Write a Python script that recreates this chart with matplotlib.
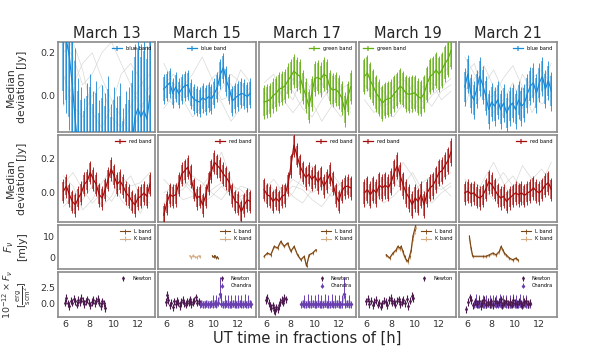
import numpy as np
import matplotlib.pyplot as plt
from matplotlib.colors import to_rgba

days = ['March 13', 'March 15', 'March 17', 'March 19', 'March 21']

# optical light curves, median deviation [Jy], 30 bins from 5.8 h to 13.0 h
opt_names = ['blue band', 'blue band', 'green band', 'green band', 'blue band']
opt_colors = ['#1a8ad6', '#1a8ad6', '#62ad12', '#62ad12', '#1a8ad6']
opt_loc = ['upper right', 'upper center', 'upper right', 'upper left', 'upper right']
opt_13 = [0.30, 0.26, 0.18, 0.05, -0.12, -0.26, -0.30, -0.35, -0.28, -0.24, -0.32, -0.27, -0.36, -0.29, -0.33,
          -0.25, -0.38, -0.30, -0.34, -0.28, -0.40, -0.32, -0.30, -0.22, -0.10, -0.06, -0.10, -0.07, -0.11, 0.0]
opt_15 = [0.03, 0.045, 0.06, 0.01, 0.04, 0.01, 0.03, 0.045, 0.05, 0.005, -0.015, -0.025, -0.03, -0.01, -0.02,
          -0.005, -0.015, 0.01, 0.04, 0.10, 0.13, 0.07, 0.03, -0.025, -0.01, 0.0, 0.01, 0.005, -0.005, 0.01]
opt_17 = [-0.03, -0.025, -0.02, 0.0, 0.01, 0.03, 0.035, 0.045, 0.07, 0.09, 0.115, 0.10, 0.09, 0.04, 0.0,
          -0.05, 0.01, 0.08, 0.085, 0.075, 0.10, 0.09, 0.04, 0.025, 0.03, 0.015, -0.01, -0.065, -0.01, 0.04]
opt_19 = [0.09, 0.105, 0.07, 0.04, 0.01, -0.01, -0.035, -0.02, -0.015, -0.01, 0.01, 0.025, 0.045, 0.03, 0.01,
          0.005, 0.01, 0.012, -0.005, -0.012, 0.01, 0.055, 0.09, 0.10, 0.12, 0.10, 0.12, 0.15, 0.17, 0.21]
opt_21 = [0.04, 0.10, 0.01, -0.02, 0.03, 0.09, 0.05, 0.0, -0.065, -0.03, -0.05, -0.02, -0.065, -0.035, -0.08,
          -0.05, -0.035, -0.065, -0.02, -0.05, -0.035, 0.01, 0.045, 0.06, 0.01, 0.06, 0.09, 0.03, 0.07, 0.02]
opt_err = [0.28, 0.055, 0.065, 0.075, 0.07]
opt_err_wide = [0.34, 0.07, 0.08, 0.085, 0.09]

red_loc = ['upper right', 'upper right', 'upper right', 'upper left', 'upper right']
red_13 = [0.01, 0.04, -0.01, -0.05, -0.07, -0.03, 0.0, 0.05, 0.07, 0.12, 0.08, 0.05, -0.01, -0.03, 0.02,
          0.08, 0.14, 0.10, 0.05, 0.07, 0.04, 0.0, -0.02, -0.05, -0.07, -0.03, -0.02, 0.0, -0.02, 0.05]
red_15 = [-0.13, -0.06, -0.01, -0.02, -0.01, 0.05, 0.11, 0.13, 0.15, 0.10, 0.02, -0.03, -0.02, -0.07, -0.02,
          0.06, 0.13, 0.18, 0.16, 0.14, 0.11, 0.09, 0.06, -0.01, -0.05, -0.06, -0.11, -0.07, -0.04, -0.05]
red_17 = [0.02, -0.01, -0.02, -0.05, -0.03, -0.05, -0.02, -0.01, 0.05, 0.16, 0.28, 0.22, 0.16, 0.12, 0.09,
          0.11, 0.08, 0.10, 0.065, 0.09, 0.04, 0.07, 0.11, 0.06, -0.01, -0.05, 0.01, 0.035, 0.04, 0.03]
red_19 = [0.0, 0.02, -0.01, 0.02, 0.0, 0.045, 0.03, 0.045, 0.03, 0.065, 0.12, 0.16, 0.10, 0.045, 0.0,
          -0.03, -0.07, -0.03, -0.05, -0.01, -0.07, 0.0, 0.03, 0.045, 0.08, 0.12, 0.13, 0.16, 0.19, 0.24]
red_21 = [0.0, 0.01, -0.005, 0.0, -0.02, -0.03, -0.015, 0.02, 0.065, 0.05, 0.02, -0.01, -0.03, -0.02, -0.05,
          -0.03, -0.015, 0.0, -0.01, 0.0, -0.015, 0.0, 0.01, 0.03, 0.01, 0.0, 0.02, 0.045, 0.06, 0.02]
red_err = [0.055, 0.055, 0.055, 0.065, 0.055]
red_err_wide = [0.07, 0.07, 0.07, 0.08, 0.07]

# comparison stars (grey), 10 bins from 5.8 h to 13.0 h
grey_opt_13 = [[0.25, 0.18, 0.05, 0.10, 0.20, 0.25, 0.15, 0.05, -0.05, 0.0],
               [0.10, -0.05, -0.10, 0.00, 0.05, -0.10, -0.15, -0.05, 0.05, 0.10],
               [0.20, 0.25, 0.12, -0.08, -0.15, -0.05, 0.10, 0.15, 0.08, -0.02],
               [-0.05, 0.05, 0.15, 0.20, 0.08, -0.02, -0.10, -0.18, -0.08, 0.05]]
grey_opt_15 = [[0.05, 0.10, 0.02, -0.05, 0.00, 0.08, 0.12, 0.05, -0.02, 0.04],
               [-0.06, 0.00, 0.06, 0.02, -0.08, -0.04, 0.03, 0.10, 0.06, 0.00],
               [0.15, 0.06, -0.02, -0.10, -0.05, 0.02, -0.03, -0.12, -0.06, 0.02],
               [0.00, -0.04, 0.04, 0.10, 0.18, 0.08, -0.02, 0.00, 0.12, 0.06]]
grey_opt_17 = [[-0.04, 0.00, 0.05, 0.02, -0.06, -0.10, -0.02, 0.04, 0.00, -0.06],
               [0.02, -0.06, -0.02, 0.08, 0.05, -0.03, -0.12, -0.05, 0.03, 0.06],
               [-0.10, -0.04, 0.03, -0.02, 0.10, 0.02, 0.06, -0.04, -0.10, -0.02],
               [0.06, 0.10, -0.02, -0.08, -0.02, 0.06, 0.00, 0.10, 0.04, -0.08]]
grey_opt_19 = [[0.05, 0.00, -0.05, -0.02, 0.03, -0.04, -0.06, 0.00, 0.04, 0.08],
               [0.12, 0.06, 0.02, -0.06, -0.02, 0.05, 0.00, -0.05, 0.02, 0.05],
               [-0.02, -0.08, -0.03, 0.04, 0.08, 0.02, -0.03, 0.03, 0.10, 0.14],
               [0.02, 0.04, -0.08, -0.10, -0.04, -0.08, 0.04, 0.06, -0.02, 0.02]]
grey_opt_21 = [[0.18, 0.10, 0.05, 0.12, 0.02, -0.05, 0.03, 0.08, 0.12, 0.05],
               [0.05, -0.05, 0.02, -0.08, -0.02, 0.06, -0.06, 0.00, 0.06, 0.15],
               [-0.05, 0.08, 0.14, 0.04, -0.10, -0.04, 0.10, 0.02, -0.04, 0.00],
               [0.10, 0.15, -0.02, 0.00, 0.08, 0.14, 0.04, -0.08, 0.02, 0.10]]
grey_red_13 = [[0.05, 0.12, 0.02, -0.06, 0.00, 0.08, -0.04, -0.10, 0.02, 0.06],
               [-0.08, -0.02, 0.06, 0.10, 0.02, -0.05, 0.04, 0.10, -0.02, -0.06],
               [0.10, 0.04, -0.10, -0.04, 0.06, 0.14, 0.06, -0.02, -0.12, 0.00],
               [-0.02, -0.10, -0.04, 0.04, -0.08, -0.02, 0.10, 0.04, 0.06, 0.12]]
grey_red_15 = [[0.00, 0.04, 0.08, 0.02, -0.04, 0.02, 0.06, 0.00, -0.02, 0.02],
               [-0.06, 0.00, 0.02, 0.10, 0.06, 0.00, -0.04, 0.04, 0.02, -0.04],
               [0.08, 0.02, -0.04, -0.02, 0.04, 0.12, 0.24, 0.08, -0.04, 0.00],
               [-0.12, -0.04, 0.06, 0.00, -0.06, -0.02, 0.04, -0.02, 0.04, 0.02]]
grey_red_17 = [[0.00, -0.04, 0.02, 0.08, 0.04, 0.00, 0.04, -0.02, 0.02, 0.00],
               [0.06, 0.02, -0.06, 0.00, 0.10, 0.16, 0.06, 0.02, -0.04, 0.04],
               [-0.06, 0.00, 0.04, -0.02, -0.06, 0.02, 0.08, 0.12, 0.04, -0.02],
               [0.02, 0.08, 0.00, 0.04, 0.02, -0.04, -0.08, 0.00, 0.06, 0.08]]
grey_red_19 = [[0.02, -0.04, 0.00, 0.06, 0.02, -0.06, 0.00, 0.04, 0.02, 0.06],
               [-0.04, 0.04, 0.08, 0.02, 0.18, 0.10, -0.02, -0.06, 0.00, 0.04],
               [0.06, 0.00, -0.06, -0.02, 0.04, 0.00, 0.06, 0.10, 0.04, -0.02],
               [-0.08, -0.02, 0.04, 0.10, 0.04, 0.12, 0.02, -0.04, 0.08, 0.12]]
grey_red_21 = [[0.00, 0.06, 0.02, -0.04, 0.04, 0.10, 0.02, -0.02, 0.04, 0.02],
               [0.04, -0.02, 0.08, 0.18, 0.06, -0.04, 0.00, 0.08, 0.14, 0.06],
               [-0.06, 0.00, -0.04, 0.04, 0.12, 0.04, -0.06, 0.02, 0.06, 0.18],
               [0.08, 0.02, 0.00, 0.06, -0.02, 0.02, 0.16, 0.08, -0.02, 0.04]]

# infrared flux [mJy]
L_t = [[], [9.85, 9.95, 10.05, 10.15, 10.25, 10.35],
       [5.80, 6.08, 6.36, 6.64, 6.92, 7.19, 7.47, 7.75, 8.03, 8.30, 8.58, 8.86, 9.14, 9.33, 9.55, 9.83, 10.11],
       [7.61, 7.89, 8.17, 8.44, 8.58, 8.72, 8.86, 9.0, 9.14, 9.28, 9.42, 9.55, 9.69, 9.83, 9.97, 10.11],
       [6.18, 6.32, 6.46, 7.29, 7.57, 7.85, 8.13, 8.40, 8.68, 8.82, 8.96, 9.1, 9.24, 9.51, 9.79, 10.07, 10.21]]
L_v = [[], [1.0, 0.3, 1.2, 0.0, 0.6, -0.2],
       [0.8, 2.3, 1.5, 5.4, 4.6, 7.7, 5.4, 6.9, 3.1, 5.4, 1.5, -0.8, 0.8, -3.8, 1.5, 2.3, 3.8],
       [1.5, 0.0, 2.3, 3.8, 5.4, 4.6, 5.4, 3.1, 0.8, -0.8, -1.5, 0.8, 3.8, 10.0, 13.0, 16.0],
       [10.0, 4.6, 0.8, 0.8, 0.8, 1.5, 2.3, 1.5, 3.1, 5.4, 3.8, 2.3, 1.5, 0.0, -0.8, 0.0, -0.8]]
K_t = [[], [7.95, 8.1, 8.25, 8.4, 8.55, 8.7, 8.8],
       L_t[2], L_t[3], L_t[4]]
K_v = [[], [1.0, 0.2, 1.2, 0.5, 0.3, 1.0, 0.8],
       [0.5, 2.0, 1.2, 5.0, 4.2, 7.2, 5.0, 6.5, 2.8, 5.0, 1.2, -1.0, 0.5, -3.5, 1.2, 2.0, 3.5],
       [1.2, -0.3, 1.8, 3.2, 4.6, 4.0, 4.6, 2.5, 0.3, -1.2, -2.0, 0.3, 3.0, 8.5, 11.5, 14.0],
       [9.0, 4.0, 0.5, 0.5, 0.4, 1.0, 1.8, 1.0, 2.5, 4.6, 3.2, 1.8, 1.0, -0.4, -1.2, -0.4, -1.2]]

# X-ray flux, 1e-12 erg/s/cm2
newton_span = [(5.9, 9.3), (5.95, 8.7), (5.95, 7.6), (5.95, 9.85), (5.9, 11.2)]
newton_v = [[0.2, 0.9, 0.1, -0.3, 0.5, 0.2, 0.8, 0.4, -0.1, 0.6, 0.3, 0.9, 0.5, 0.0, 0.4, 0.7, 0.2, -0.2,
             0.3, 0.6, 0.1, 0.5, 0.8, 0.2, -0.3, 0.4, 0.1, -0.6],
            [0.3, 1.3, 0.6, -0.2, 0.2, -0.5, 0.4, 0.0, 0.5, 0.2, -0.3, 0.3, 0.6, 0.1, -0.1, 0.4, 0.2, 0.7,
             0.0, 0.3, 0.5, 1.0, 0.2, 0.4],
            [0.6, 0.9, 0.2, -0.3, -0.6, -0.2, -0.9, -1.1, -0.5, -0.8, -0.2, 0.3, 0.6, 0.2, 0.9, 0.7],
            [0.4, 0.8, 0.0, 0.5, -0.2, 0.3, 0.6, -0.1, 0.2, -0.4, 0.1, 0.5, 0.3, -0.2, 0.6, 0.9, 0.2, 0.4,
             -0.1, 0.5, 0.7, 0.0, 0.3, 0.6, 0.1, 0.8, -0.3, 0.5, 1.2, 0.9],
            [-0.8, 0.3, 1.0, 0.6, -0.2, 0.4, 0.0, 0.5, -0.3, 0.2, 0.6, -0.1, 0.3, 0.0, 0.4, -0.2, 0.5, 0.1,
             0.3, 0.7, -0.2, 0.2, 0.5, 0.0, 0.3, -0.1, 0.6, 0.2, 0.0, 0.4, 0.1, -0.2, 0.3, 0.5, 0.0, 0.2]]
newton_err = 0.55
chandra_span = [None, (8.8, 13.1), (8.86, 13.0), None, (6.6, 11.2)]
chandra_v = [None,
             [0.0, 0.05, -0.05, 0.0, 0.05, 0.0, -0.05, 0.05, 0.0, 0.1, 0.0, 0.2, 1.5, 0.05, -0.05, 0.0,
              0.05, 0.0, -0.05, 0.0, 0.05, 0.0, 0.0, -0.05, 0.05, 0.0, 0.0, 0.05, -0.05, 0.0, 0.05, 0.0],
             [0.0, 0.05, 0.0, -0.05, 0.05, 0.0, 0.0, 0.05, -0.05, 0.0, 0.05, 0.0, -0.05, 0.0, 0.05,
              0.0, 0.0, -0.05, 0.05, 0.0, 0.0, 0.05, 0.0, -0.05, 0.0, 1.5, 0.0, 0.05, 0.0, 0.0],
             None,
             [0.0, 0.05, -0.05, 0.0, 0.05, 0.0, -0.05, 0.0, 0.05, 0.0, 0.0, -0.05, 0.05, 0.0, 0.0, 0.05, -0.05,
              0.0, 0.05, 0.0, 0.0, -0.05, 0.0, 0.05, 0.0, 0.0, -0.05, 0.05, 0.0, 0.0, 0.05, 0.0, -0.05, 0.0]]
chandra_up = [None,
              [0.5, 0.5, 0.5, 0.5, 0.5, 0.5, 0.5, 0.5, 1.4, 0.5, 1.4, 0.9, 2.5, 1.4, 0.5, 1.4,
               0.5, 1.4, 0.5, 1.4, 0.5, 1.4, 0.5, 1.4, 0.5, 1.4, 0.5, 1.4, 0.5, 1.4, 0.5, 0.5],
              [0.5, 0.5, 1.4, 0.5, 1.4, 0.5, 1.4, 0.5, 1.4, 0.5, 1.4, 0.5, 1.4, 0.5, 1.4,
               0.5, 1.4, 0.5, 1.4, 0.5, 1.4, 0.5, 1.4, 0.5, 1.4, 2.5, 1.4, 0.5, 1.4, 0.5],
              None,
              [0.5, 1.4, 0.5, 1.4, 0.5, 1.4, 0.5, 1.4, 0.5, 1.4, 0.5, 1.4, 0.5, 1.4, 0.5, 1.4, 0.5,
               1.4, 0.5, 1.4, 0.5, 1.4, 0.5, 1.4, 0.5, 1.4, 0.5, 1.4, 0.5, 1.4, 0.5, 1.4, 0.5, 0.5]]
chandra_lo = 0.55

opt_vals = [opt_13, opt_15, opt_17, opt_19, opt_21]
red_vals = [red_13, red_15, red_17, red_19, red_21]
grey_opt = [grey_opt_13, grey_opt_15, grey_opt_17, grey_opt_19, grey_opt_21]
grey_red = [grey_red_13, grey_red_15, grey_red_17, grey_red_19, grey_red_21]

red_color = '#a50d0d'
L_color = '#7a4514'
K_color = '#d6ad82'
newton_color = '#4d1a4f'
chandra_color = '#6a3fb0'
grey = '#cfd1cc'

t_main = np.linspace(5.8, 13.0, 30)
t_grey = np.linspace(5.8, 13.0, 10)

fig = plt.figure(figsize=(5.98, 3.56), dpi=100)
gs = fig.add_gridspec(4, 5, left=0.097, right=0.931, top=0.882, bottom=0.110,
                      wspace=0.031, hspace=0.045, height_ratios=[90, 87, 44, 45])
axes = gs.subplots(sharex=True, sharey='row')


def light_curve(ax, vals, err, err_wide, color, label, greys, loc):
    for g in greys:
        ax.plot(t_grey, g, color=grey, lw=0.5, alpha=0.8, zorder=1)
    ax.errorbar(t_main, vals, yerr=err_wide, fmt='none', ecolor=color, elinewidth=0.6, zorder=3)
    ax.errorbar(t_main, vals, yerr=err, fmt='-', color=color, lw=0.9,
                ecolor=to_rgba(color, 0.6), elinewidth=1.4, label=label, zorder=4)
    ax.legend(loc=loc, fontsize=3.6, frameon=False, borderaxespad=0.4)


for c in range(5):
    light_curve(axes[0, c], opt_vals[c], opt_err[c], opt_err_wide[c], opt_colors[c],
                opt_names[c], grey_opt[c], opt_loc[c])
    light_curve(axes[1, c], red_vals[c], red_err[c], red_err_wide[c], red_color,
                'red band', grey_red[c], red_loc[c])
    axes[0, c].set_title(days[c], fontsize=10.5, pad=3, color='#262626')

    # infrared
    ax = axes[2, c]
    lt = L_t[c] if L_t[c] else [np.nan]
    lv = L_v[c] if L_v[c] else [np.nan]
    kt = K_t[c] if K_t[c] else [np.nan]
    kv = K_v[c] if K_v[c] else [np.nan]
    ax.errorbar(kt, kv, yerr=0.6, fmt='-', color=K_color, lw=0.8, elinewidth=0.8, label='K band', zorder=2)
    ax.errorbar(lt, lv, yerr=0.4, fmt='-', color=L_color, lw=0.8, elinewidth=0.6, label='L band', zorder=3)
    h, l = ax.get_legend_handles_labels()
    ax.legend(h[::-1], l[::-1], loc='upper right', fontsize=3.6, frameon=False, borderaxespad=0.4)

    # X-ray
    ax = axes[3, c]
    if chandra_span[c] is not None:
        ct = np.linspace(chandra_span[c][0], chandra_span[c][1], len(chandra_v[c]))
        cv = np.array(chandra_v[c])
        ax.fill_between(ct, cv - chandra_lo, cv + chandra_lo, color=chandra_color, alpha=0.45, lw=0, zorder=1)
    nt = np.linspace(newton_span[c][0], newton_span[c][1], len(newton_v[c]))
    ax.errorbar(nt, newton_v[c], yerr=newton_err, fmt='.', ms=2, color=newton_color,
                elinewidth=0.8, label='Newton', zorder=3)
    if chandra_span[c] is not None:
        ax.errorbar(ct, cv, yerr=[np.full(len(cv), chandra_lo), chandra_up[c]], fmt='D', ms=1.2,
                    color=chandra_color, elinewidth=0.7, label='Chandra', zorder=2)
    ax.legend(loc='upper right', fontsize=3.6, frameon=False, borderaxespad=0.4)

axes[0, 0].set_ylim(-0.17, 0.25)
axes[0, 0].set_yticks([0.0, 0.2])
axes[1, 0].set_ylim(-0.17, 0.34)
axes[1, 0].set_yticks([0.0, 0.2])
axes[2, 0].set_ylim(-5, 15.2)
axes[2, 0].set_yticks([0, 10])
axes[3, 0].set_ylim(-1.9, 4.75)
axes[3, 0].set_yticks([0.0, 2.5])
axes[3, 0].set_xlim(5.35, 13.45)
axes[3, 0].set_xticks([6, 8, 10, 12])

for ax in axes.flat:
    for s in ax.spines.values():
        s.set_color('#8a8a8a')
        s.set_linewidth(1.2)
    ax.tick_params(length=0, labelsize=6.8, colors='#333333', pad=2)
    ax.set_facecolor('white')

ylabels = ['Median\ndeviation [Jy]', 'Median\ndeviation [Jy]', '$F_\\nu$\n[mJy]']
for r in range(3):
    axes[r, 0].set_ylabel(ylabels[r], fontsize=7.8, color='#333333', linespacing=1.1)
    axes[r, 0].yaxis.set_label_coords(-0.32, 0.5)

# X-ray row label, two lines placed separately (the fraction makes line 2 tall)
fig.text(0.014, 0.172, '$10^{-12}\\times F_\\nu$', rotation=90, ha='center', va='center',
         fontsize=6.8, color='#333333')
fig.text(0.040, 0.172, '$[\\frac{\\mathrm{erg}}{\\mathrm{scm}^2}]$', rotation=90, ha='center', va='center',
         fontsize=6.8, color='#333333')

fig.text(0.514, 0.036, 'UT time in fractions of [h]', ha='center', va='baseline',
         fontsize=10.5, color='#262626')

fig.savefig('out.png', dpi=100)
